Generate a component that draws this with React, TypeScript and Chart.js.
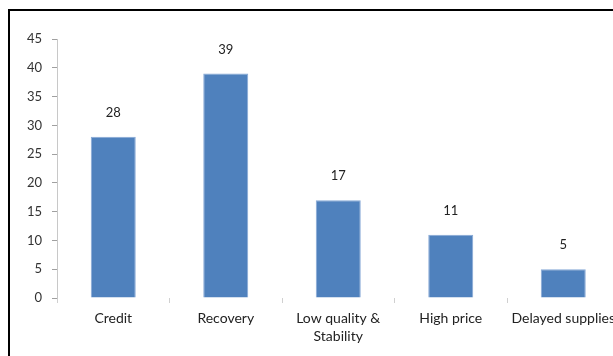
import React, { useEffect, useRef } from "react";
import { Chart, registerables } from "chart.js";

Chart.register(...registerables);

const categories: (string | string[])[] = [
  "Credit",
  "Recovery",
  ["Low quality &", "Stability"],
  "High price",
  "Delayed supplies",
];
const values: number[] = [28, 39, 17, 11, 5];
const yTicks: number[] = [0, 5, 10, 15, 20, 25, 30, 35, 40, 45];

const FONT = "Lato, 'Open Sans', sans-serif";

const valueLabels = {
  id: "valueLabels",
  afterDatasetsDraw(chart: any) {
    const ctx = chart.ctx;
    const meta = chart.getDatasetMeta(0);
    ctx.save();
    ctx.font = `13px ${FONT}`;
    ctx.fillStyle = "#222";
    ctx.textAlign = "center";
    ctx.textBaseline = "middle";
    meta.data.forEach((bar: any, i: number) => {
      ctx.fillText(String(values[i]), bar.x, bar.y - 24);
    });
    ctx.restore();
  },
};

export default function App() {
  const ref = useRef<HTMLCanvasElement | null>(null);
  useEffect(() => {
    if (!ref.current) return;
    const chart = new Chart(ref.current, {
      type: "bar",
      data: {
        labels: categories,
        datasets: [
          {
            data: values,
            backgroundColor: "#4F81BD",
            borderColor: "#86a8d6",
            borderWidth: 1,
            barPercentage: 0.4,
            categoryPercentage: 1,
          },
        ],
      },
      options: {
        responsive: false,
        animation: false,
        devicePixelRatio: 1,
        layout: { padding: { top: 39, right: 80.5, left: 0, bottom: 0 } },
        plugins: { legend: { display: false }, tooltip: { enabled: false } },
        scales: {
          x: {
            offset: true,
            grid: {
              offset: true,
              drawOnChartArea: false,
              drawTicks: true,
              tickLength: 5,
              color: "#d0d0d0",
            },
            border: { display: false },
            ticks: {
              color: "#222",
              padding: 6,
              maxRotation: 0,
              autoSkip: false,
              font: { family: FONT, size: 14, lineHeight: 1.3 },
            },
            afterFit(scale: any) {
              scale.height = 58;
            },
          },
          y: {
            min: 0,
            max: 45,
            afterBuildTicks(scale: any) {
              scale.ticks = yTicks.map((v) => ({ value: v }));
            },
            grid: {
              drawOnChartArea: false,
              drawTicks: true,
              tickLength: 5,
              color: "#a0a0a0",
            },
            border: { display: true, color: "#c8c8c8", width: 1 },
            ticks: {
              color: "#333",
              padding: 10,
              font: { family: FONT, size: 13 },
            },
            afterFit(scale: any) {
              scale.width = 57;
            },
          },
        },
      },
      plugins: [valueLabels],
    });
    return () => chart.destroy();
  }, []);

  return (
    <div
      style={{
        position: "fixed",
        left: 0,
        top: 0,
        width: 613,
        height: 356,
        overflow: "hidden",
        background: "#fff",
      }}
    >
      <canvas
        ref={ref}
        width={700}
        height={356}
        style={{ position: "absolute", left: 0, top: 0 }}
      />
      <div
        style={{
          position: "absolute",
          left: 8,
          top: 9,
          width: 700,
          height: 400,
          borderLeft: "2px solid #000",
          borderTop: "2px solid #000",
          pointerEvents: "none",
        }}
      />
    </div>
  );
}
